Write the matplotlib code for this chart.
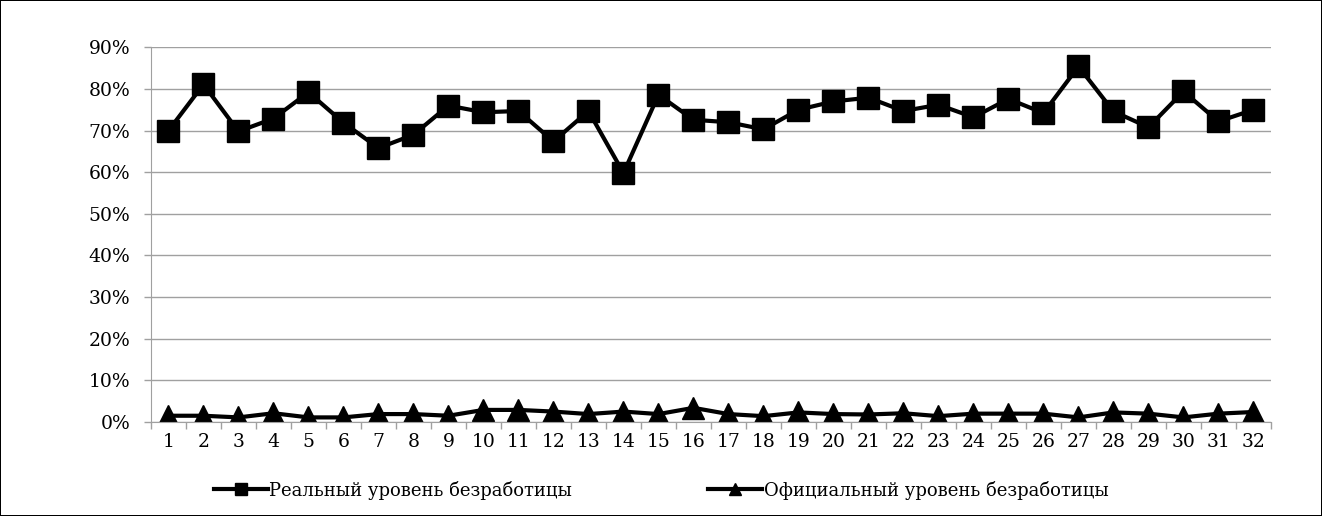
import matplotlib
matplotlib.use('Agg')
import matplotlib.pyplot as plt
from matplotlib.ticker import PercentFormatter, MultipleLocator, FixedLocator, NullFormatter

# regions 1..32
regions = list(range(1, 33))
# real unemployment level, %
real_rate = [70.0, 81.1, 69.8, 72.9, 79.2, 71.9, 65.8, 69.0, 76.0, 74.4, 74.7,
             67.4, 74.7, 59.8, 78.6, 72.6, 72.0, 70.3, 75.0, 77.0, 77.9, 74.7,
             76.2, 73.2, 77.6, 74.2, 85.4, 74.6, 70.8, 79.4, 72.2, 75.0]
# official unemployment level, %
official_rate = [1.5, 1.5, 1.1, 2.1, 1.1, 1.1, 1.9, 1.9, 1.5, 2.9, 2.9, 2.5,
                 1.9, 2.5, 1.9, 3.4, 1.9, 1.4, 2.3, 1.9, 1.8, 2.1, 1.4, 2.0,
                 2.0, 2.0, 1.1, 2.3, 2.0, 1.1, 2.0, 2.4]
labels = ['Реальный уровень безработицы', 'Официальный уровень безработицы']

plt.rcParams['font.family'] = ['DejaVu Serif']

fig = plt.figure(figsize=(13.22, 5.16), dpi=100, edgecolor='black', linewidth=1.2)
ax = fig.add_axes([0.1142, 0.1822, 0.8472, 0.7261])

ax.plot(regions, real_rate, color='black', lw=3, marker='s', ms=16, label=labels[0])
ax.plot(regions, official_rate, color='black', lw=3, marker='^', ms=16, label=labels[1])

ax.set_xlim(0.5, 32.5)
ax.set_ylim(0, 90)
ax.yaxis.set_major_locator(MultipleLocator(10))
ax.yaxis.set_major_formatter(PercentFormatter(decimals=0))
ax.grid(axis='y', color='#a0a0a0', lw=1)
ax.set_axisbelow(True)

# category ticks: labels at the centres, tick marks between categories
ax.set_xticks(regions)
ax.tick_params(axis='x', which='major', length=0, pad=8, labelsize=13.5)
ax.xaxis.set_minor_locator(FixedLocator([i + 0.5 for i in range(0, 33)]))
ax.xaxis.set_minor_formatter(NullFormatter())
ax.tick_params(axis='x', which='minor', length=5, color='#a0a0a0', width=1)
ax.tick_params(axis='y', length=5, color='#a0a0a0', width=1, labelsize=13.5, pad=10)

for s in ['top', 'right']:
    ax.spines[s].set_visible(False)
ax.spines['left'].set_color('#a0a0a0')
ax.spines['bottom'].set_color('#a0a0a0')

fig.legend(loc='center', bbox_to_anchor=(0.5, 0.05), ncol=2, frameon=False,
           fontsize=13, handlelength=3, handletextpad=0.1, columnspacing=7.5,
           markerscale=0.55)

fig.savefig('out.png', dpi=100)
